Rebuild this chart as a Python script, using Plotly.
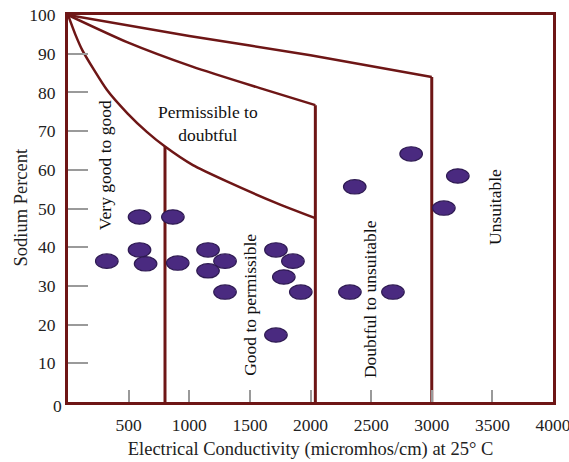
import plotly.graph_objects as go

# ---- data ----
ec = [320, 590, 590, 640, 865, 905, 1155, 1295, 1155, 1295, 1715, 1855, 1780, 1920, 1715,
      2830, 2365, 3215, 3100, 2325, 2680]
na = [36.4, 47.8, 39.3, 35.7, 47.8, 35.9, 39.3, 36.4, 33.9, 28.4, 39.3, 36.4, 32.3, 28.4, 17.3,
      64.1, 55.6, 58.4, 50.1, 28.4, 28.4]

curveA_x = [0, 60, 120, 322, 490, 650, 800, 1030, 1310, 1720, 2040]
curveA_y = [100, 95.0, 90.8, 80.6, 74.6, 69.8, 66.0, 61.2, 57.0, 51.4, 47.5]
curveB_x = [0, 487, 1031, 1583, 2040]
curveB_y = [100, 93.0, 86.6, 81.1, 76.7]
curveC_x = [0, 1000, 2000, 3000]
curveC_y = [100, 94.6, 89.6, 84.0]

x_ticks = [500, 1000, 1500, 2000, 2500, 3000, 3500, 4000]
y_ticks = [10, 20, 30, 40, 50, 60, 70, 80, 90, 100]

zone_labels = ["Very good to good", "Permissible to<br>doubtful", "Good to permissible",
               "Doubtful to unsuitable", "Unsuitable"]
zone_x = [305, 1155, 1501, 2491, 3522]
zone_y = [61.2, 72.0, 25.1, 26.6, 50.4]
zone_angle = [-90, 0, -90, -90, -90]

LINE = "#6e1616"
FONT = "Liberation Serif"
TICKSIZE = 17.5
TITLESIZE = 18.5

fig = go.Figure()

# boundary curves
for cx, cy in [(curveA_x, curveA_y), (curveB_x, curveB_y), (curveC_x, curveC_y)]:
    fig.add_trace(go.Scatter(x=cx, y=cy, mode="lines",
                             line=dict(color=LINE, width=2.5, shape="spline", smoothing=0.6),
                             hoverinfo="skip", showlegend=False))

# vertical boundary lines up to the end of each curve
verticals = [(curveA_x[6], curveA_y[6]), (curveB_x[-1], curveB_y[-1]), (curveC_x[-1], curveC_y[-1])]
for vx, vy in verticals:
    fig.add_trace(go.Scatter(x=[vx, vx], y=[0, vy], mode="lines",
                             line=dict(color=LINE, width=3),
                             hoverinfo="skip", showlegend=False))

# sample points as ellipses in data coordinates
rx, ry = 93, 1.85
shapes = []
for x, y in zip(ec, na):
    shapes.append(dict(type="circle", xref="x", yref="y",
                       x0=x - rx, x1=x + rx, y0=y - ry, y1=y + ry,
                       fillcolor="#4a2a80", line=dict(color="#2e1a52", width=1.2),
                       layer="above"))
fig.add_trace(go.Scatter(x=ec, y=na, mode="markers",
                         marker=dict(size=16, opacity=0), showlegend=False,
                         hovertemplate="EC %{x}<br>Na %{y}%<extra></extra>"))

annotations = []
for t, x, y, a in zip(zone_labels, zone_x, zone_y, zone_angle):
    annotations.append(dict(text=t, x=x, y=y, xref="x", yref="y", showarrow=False,
                            textangle=a, font=dict(family=FONT, size=TICKSIZE, color="#111")))
annotations.append(dict(text="0", x=-0.021, y=-0.011, xref="paper", yref="paper",
                        showarrow=False, xanchor="center", yanchor="middle",
                        font=dict(family=FONT, size=TICKSIZE, color="#222")))
annotations.append(dict(text="Sodium Percent", x=-0.097, y=0.505, xref="paper", yref="paper",
                        showarrow=False, xanchor="center", yanchor="middle", textangle=-90,
                        font=dict(family=FONT, size=TITLESIZE, color="#222")))

fig.update_layout(
    width=569, height=462,
    margin=dict(l=68, r=16, t=15, b=60, autoexpand=False),
    paper_bgcolor="white", plot_bgcolor="white",
    shapes=shapes, annotations=annotations,
    font=dict(family=FONT, size=TICKSIZE, color="#222"),
    xaxis=dict(range=[0, 4000], tickvals=x_ticks, ticktext=[str(v) for v in x_ticks],
               ticks="inside", ticklen=12, tickcolor="#9a9a9a", tickwidth=1.5,
               showline=True, linecolor=LINE, linewidth=3, mirror=True,
               showgrid=False, zeroline=False, ticklabelstandoff=5, automargin=False,
               ticklabeloverflow="allow",
               tickfont=dict(family=FONT, size=TICKSIZE, color="#222"),
               title=dict(text="Electrical Conductivity (micromhos/cm) at 25° C",
                          font=dict(family=FONT, size=TITLESIZE, color="#222"), standoff=9)),
    yaxis=dict(range=[0, 100], tickvals=y_ticks, ticktext=[str(v) for v in y_ticks],
               ticks="inside", ticklen=20, tickcolor="#9a9a9a", tickwidth=1.5,
               showline=True, linecolor=LINE, linewidth=3, mirror=True,
               showgrid=False, zeroline=False, ticklabelstandoff=6, automargin=False,
               ticklabeloverflow="allow",
               tickfont=dict(family=FONT, size=TICKSIZE, color="#222")),
)

fig.write_html("out.html", config={"displayModeBar": False},
               post_script="document.body.style.margin='0px';document.body.style.overflow='hidden';")
